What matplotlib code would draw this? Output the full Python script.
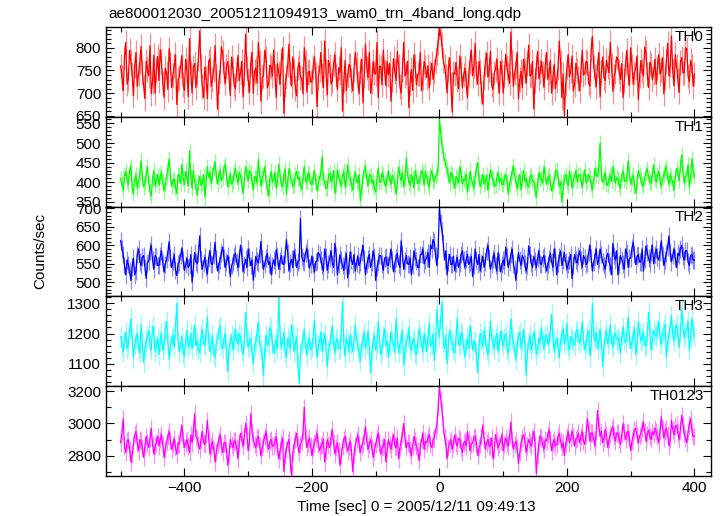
import numpy as np
import matplotlib
matplotlib.use('Agg')
import matplotlib.pyplot as plt
from matplotlib.ticker import MultipleLocator

plt.rcParams['font.family'] = ['Liberation Sans', 'DejaVu Sans']
plt.rcParams['font.size'] = 11

# Light curve bins: 2 sec steps starting at -500 sec
t_start = -500
t_step = 2

# Counts/sec per band (one row = 60 sec)
th0 = [
    760, 735, 705, 778, 812, 720, 731, 795, 768, 742, 694, 760, 790, 715, 742, 770, 803, 748, 716, 688, 771, 752, 738, 805, 699, 726, 784, 700, 752, 781,
    728, 796, 770, 722, 690, 755, 745, 708, 798, 766, 712, 740, 760, 785, 675, 730, 735, 760, 782, 718, 706, 775, 748, 692, 820, 744, 700, 758, 765, 712,
    742, 775, 838, 760, 715, 690, 758, 732, 688, 770, 776, 715, 730, 752, 805, 738, 664, 725, 748, 802, 790, 745, 722, 760, 770, 735, 695, 780, 752, 718,
    710, 752, 783, 728, 745, 770, 692, 742, 830, 756, 728, 702, 765, 790, 700, 748, 756, 722, 812, 768, 682, 735, 738, 795, 776, 712, 720, 762, 758, 738,
    795, 740, 690, 765, 744, 720, 772, 800, 655, 718, 736, 762, 808, 745, 716, 780, 750, 710, 694, 755, 768, 735, 733, 698, 800, 770, 702, 746, 748, 725,
    725, 758, 780, 742, 670, 735, 752, 790, 740, 712, 815, 748, 696, 772, 760, 720, 728, 765, 785, 740, 708, 756, 745, 800, 660, 728, 772, 705, 738, 762,
    762, 728, 705, 752, 790, 765, 722, 700, 748, 775, 678, 738, 808, 755, 735, 790, 700, 726, 770, 745, 742, 812, 690, 760, 758, 718, 795, 748, 716, 770,
    740, 765, 682, 730, 776, 748, 728, 792, 760, 715, 700, 752, 812, 738, 745, 770, 668, 722, 752, 706, 785, 760, 718, 742, 742, 790, 705, 734, 770, 758,
    735, 760, 712, 745, 766, 730, 748, 772, 790, 812, 846, 830, 805, 772, 760, 738, 700, 752, 778, 720, 658, 745, 742, 768, 730, 710, 782, 755, 712, 740,
    755, 725, 690, 742, 770, 795, 738, 760, 810, 744, 720, 770, 748, 702, 676, 735, 765, 788, 735, 752, 792, 718, 708, 745, 752, 775, 728, 700, 770, 748,
    700, 738, 786, 755, 742, 722, 835, 768, 715, 745, 760, 790, 688, 730, 748, 712, 775, 750, 722, 765, 806, 738, 740, 770, 665, 728, 758, 792, 732, 748,
    770, 745, 712, 760, 790, 730, 745, 772, 700, 736, 764, 710, 728, 755, 815, 768, 690, 742, 650, 720, 758, 785, 736, 750, 782, 705, 718, 766, 750, 732,
    705, 752, 795, 740, 744, 770, 768, 722, 716, 798, 825, 758, 738, 715, 762, 790, 692, 746, 780, 735, 728, 772, 758, 745, 812, 762, 704, 738, 748, 780,
    774, 748, 730, 765, 690, 728, 766, 795, 742, 718, 800, 760, 720, 745, 756, 782, 685, 738, 772, 750, 738, 802, 790, 742, 712, 768, 762, 730, 746, 775,
    720, 755, 785, 742, 752, 778, 698, 735, 770, 810, 738, 762, 826, 748, 716, 785, 760, 728, 702, 768, 778, 745, 744, 800, 798, 738, 725, 772, 760, 715,
    742]
th1 = [
    410, 395, 380, 418, 428, 405, 395, 432, 440, 388, 372, 410, 418, 385, 402, 425, 455, 412, 388, 398, 422, 440, 398, 376, 365, 408, 430, 392, 405, 420,
    392, 415, 425, 400, 378, 396, 412, 435, 460, 418, 390, 405, 408, 388, 372, 420, 418, 398, 445, 410, 395, 428, 410, 392, 480, 415, 385, 430, 402, 388,
    368, 400, 415, 392, 398, 420, 362, 405, 440, 412, 425, 398, 418, 436, 452, 415, 396, 422, 430, 405, 410, 438, 445, 418, 388, 410, 420, 395, 402, 425,
    435, 412, 398, 425, 418, 395, 372, 408, 440, 420, 405, 430, 425, 402, 380, 415, 412, 398, 458, 420, 390, 412, 420, 440, 402, 385, 365, 410, 428, 400,
    410, 425, 385, 405, 446, 415, 398, 388, 420, 432, 370, 402, 435, 415, 405, 390, 392, 420, 428, 408, 412, 395, 382, 418, 440, 402, 400, 425, 418, 396,
    395, 412, 430, 405, 378, 398, 412, 425, 465, 410, 400, 385, 386, 418, 424, 400, 408, 430, 372, 395, 432, 415, 402, 390, 418, 428, 388, 405, 445, 412,
    410, 395, 380, 412, 426, 402, 398, 420, 352, 388, 415, 430, 440, 408, 392, 415, 420, 398, 405, 385, 375, 410, 436, 402, 400, 425, 418, 395, 390, 412,
    428, 405, 395, 418, 412, 390, 370, 402, 440, 415, 405, 425, 388, 410, 462, 420, 400, 392, 420, 408, 385, 430, 415, 398, 398, 412, 430, 418, 392, 428,
    412, 398, 388, 420, 430, 405, 402, 415, 420, 440, 560, 525, 492, 475, 458, 440, 432, 418, 398, 425, 420, 402, 385, 415, 410, 398, 440, 420, 395, 408,
    405, 420, 375, 398, 428, 410, 398, 385, 415, 432, 450, 408, 390, 402, 420, 395, 402, 418, 380, 405, 432, 415, 408, 390, 392, 412, 425, 400, 410, 395,
    395, 410, 420, 402, 370, 395, 412, 425, 442, 418, 398, 385, 405, 420, 380, 408, 430, 402, 410, 392, 388, 415, 418, 405, 402, 380, 362, 398, 425, 410,
    410, 398, 440, 420, 395, 412, 418, 400, 378, 395, 405, 428, 432, 410, 390, 402, 350, 385, 412, 420, 400, 392, 428, 412, 385, 405, 415, 430, 402, 418,
    420, 405, 388, 412, 432, 398, 405, 420, 412, 395, 380, 408, 436, 418, 415, 440, 500, 425, 400, 412, 425, 395, 392, 410, 418, 402, 440, 420, 398, 412,
    410, 395, 385, 420, 428, 405, 402, 415, 455, 425, 395, 410, 418, 390, 372, 402, 430, 418, 408, 395, 390, 412, 425, 435, 412, 400, 398, 420, 445, 410,
    402, 418, 428, 405, 390, 412, 418, 432, 440, 410, 395, 420, 412, 398, 380, 415, 435, 422, 405, 440, 470, 425, 398, 412, 420, 445, 388, 415, 460, 428,
    415]
th2 = [
    612, 590, 575, 545, 520, 560, 548, 530, 505, 542, 565, 520, 530, 575, 590, 555, 545, 568, 572, 540, 510, 552, 558, 585, 600, 560, 535, 572, 568, 545,
    545, 570, 585, 552, 528, 548, 562, 580, 610, 565, 540, 558, 575, 532, 518, 550, 555, 572, 592, 560, 532, 548, 565, 540, 545, 575, 500, 538, 580, 555,
    550, 578, 625, 560, 535, 552, 568, 540, 522, 565, 585, 550, 548, 572, 608, 562, 530, 548, 560, 578, 595, 565, 540, 555, 572, 548, 515, 545, 555, 570,
    578, 555, 540, 565, 600, 572, 528, 548, 562, 540, 590, 568, 545, 560, 505, 538, 570, 558, 552, 575, 610, 562, 535, 550, 565, 578, 548, 555, 520, 545,
    560, 545, 588, 570, 535, 558, 572, 550, 548, 575, 615, 580, 530, 552, 562, 540, 585, 568, 540, 555, 560, 672, 568, 558, 555, 578, 592, 565, 538, 550,
    570, 548, 528, 555, 558, 580, 575, 560, 545, 530, 590, 568, 532, 550, 565, 585, 550, 540, 605, 572, 520, 548, 575, 560, 545, 532, 560, 578, 512, 545,
    582, 560, 548, 575, 530, 552, 570, 545, 555, 580, 600, 562, 520, 548, 562, 575, 540, 555, 585, 568, 505, 540, 555, 572, 572, 550, 532, 565, 568, 548,
    545, 565, 590, 560, 528, 552, 565, 578, 550, 540, 612, 575, 535, 558, 572, 550, 548, 565, 520, 545, 585, 568, 558, 540, 540, 575, 575, 590, 550, 560,
    565, 580, 540, 600, 590, 615, 608, 570, 545, 590, 702, 660, 640, 605, 560, 585, 520, 555, 575, 548, 548, 570, 530, 552, 568, 540, 552, 575, 585, 560,
    540, 562, 575, 548, 555, 570, 515, 545, 590, 560, 548, 575, 530, 552, 570, 540, 555, 585, 600, 565, 535, 550, 562, 578, 545, 530, 580, 555, 528, 548,
    560, 545, 595, 568, 540, 555, 575, 590, 550, 535, 505, 548, 580, 560, 545, 572, 565, 550, 530, 545, 598, 575, 552, 540, 570, 558, 540, 565, 585, 550,
    548, 565, 572, 550, 530, 548, 562, 578, 555, 540, 590, 570, 520, 552, 568, 585, 545, 560, 580, 555, 535, 548, 560, 575, 510, 545, 575, 560, 552, 570,
    585, 560, 540, 572, 565, 548, 552, 580, 600, 565, 530, 555, 570, 590, 548, 562, 590, 575, 555, 545, 535, 568, 578, 555, 545, 520, 605, 572, 560, 585,
    520, 548, 572, 560, 550, 535, 590, 578, 540, 565, 565, 592, 608, 575, 548, 570, 575, 555, 555, 590, 530, 562, 598, 580, 565, 552, 580, 600, 550, 575,
    590, 568, 560, 582, 612, 575, 545, 560, 578, 595, 625, 580, 555, 572, 590, 565, 540, 578, 572, 590, 600, 570, 560, 585, 585, 555, 545, 572, 575, 560,
    560]
th3 = [
    1190, 1160, 1140, 1175, 1205, 1150, 1160, 1215, 1250, 1180, 1120, 1165, 1185, 1200, 1150, 1135, 1230, 1170, 1105, 1150, 1175, 1190, 1210, 1160, 1145, 1225, 1195, 1140, 1160, 1185,
    1130, 1175, 1200, 1145, 1165, 1210, 1240, 1170, 1115, 1160, 1180, 1195, 1155, 1220, 1300, 1175, 1140, 1165, 1190, 1135, 1125, 1180, 1210, 1155, 1170, 1200, 1150, 1185, 1230, 1160,
    1175, 1150, 1135, 1190, 1215, 1165, 1160, 1205, 1255, 1175, 1140, 1160, 1195, 1130, 1120, 1170, 1180, 1215, 1225, 1160, 1150, 1185, 1200, 1140, 1075, 1155, 1170, 1195, 1145, 1180,
    1215, 1175, 1165, 1200, 1190, 1145, 1130, 1180, 1270, 1190, 1155, 1170, 1185, 1135, 1100, 1160, 1175, 1205, 1240, 1165, 1145, 1125, 1060, 1150, 1195, 1175, 1160, 1220, 1210, 1165,
    1135, 1165, 1180, 1150, 1320, 1195, 1150, 1175, 1205, 1140, 1120, 1185, 1170, 1150, 1230, 1190, 1140, 1165, 1190, 1100, 1035, 1130, 1165, 1180, 1215, 1155, 1130, 1170, 1185, 1145,
    1155, 1190, 1245, 1170, 1120, 1160, 1175, 1205, 1140, 1175, 1200, 1150, 1090, 1145, 1165, 1195, 1225, 1160, 1135, 1180, 1180, 1150, 1150, 1210, 1305, 1165, 1125, 1185, 1170, 1140,
    1195, 1165, 1140, 1180, 1230, 1175, 1160, 1135, 1110, 1160, 1185, 1205, 1150, 1170, 1210, 1155, 1070, 1140, 1175, 1195, 1145, 1170, 1240, 1185, 1130, 1150, 1190, 1215, 1160, 1175,
    1120, 1160, 1205, 1175, 1165, 1140, 1250, 1190, 1135, 1165, 1180, 1210, 1095, 1150, 1170, 1185, 1220, 1160, 1145, 1175, 1185, 1135, 1130, 1170, 1215, 1190, 1160, 1140, 1200, 1175,
    1140, 1185, 1235, 1160, 1165, 1200, 1110, 1175, 1280, 1215, 1190, 1250, 1305, 1170, 1150, 1195, 1100, 1160, 1210, 1180, 1170, 1145, 1135, 1190, 1250, 1165, 1160, 1205, 1195, 1150,
    1125, 1165, 1180, 1150, 1225, 1195, 1145, 1175, 1170, 1130, 1070, 1160, 1200, 1180, 1155, 1210, 1190, 1145, 1130, 1170, 1240, 1185, 1165, 1150, 1185, 1200, 1140, 1165, 1210, 1175,
    1160, 1185, 1200, 1150, 1135, 1175, 1250, 1190, 1175, 1140, 1115, 1165, 1190, 1205, 1150, 1175, 1215, 1160, 1060, 1140, 1170, 1195, 1145, 1165, 1205, 1180, 1130, 1155, 1185, 1170,
    1220, 1175, 1150, 1190, 1195, 1165, 1170, 1210, 1265, 1185, 1140, 1170, 1185, 1155, 1120, 1175, 1200, 1215, 1165, 1180, 1235, 1160, 1145, 1190, 1180, 1170, 1160, 1205, 1215, 1180,
    1170, 1195, 1240, 1180, 1145, 1170, 1195, 1210, 1125, 1165, 1300, 1190, 1175, 1205, 1150, 1180, 1215, 1175, 1090, 1155, 1190, 1210, 1165, 1185, 1230, 1170, 1155, 1195, 1200, 1180,
    1185, 1170, 1135, 1195, 1220, 1180, 1170, 1205, 1255, 1190, 1150, 1175, 1195, 1215, 1130, 1170, 1240, 1200, 1175, 1185, 1205, 1160, 1160, 1195, 1270, 1210, 1145, 1180, 1210, 1195,
    1190, 1210, 1240, 1185, 1165, 1200, 1215, 1230, 1120, 1175, 1200, 1220, 1260, 1195, 1175, 1215, 1230, 1190, 1155, 1205, 1280, 1225, 1185, 1200, 1215, 1240, 1145, 1190, 1250, 1210,
    1190]
th0123 = [
    2880, 2950, 3030, 2860, 2820, 2890, 2900, 2840, 2760, 2810, 2870, 2930, 2950, 2880, 2830, 2900, 2890, 2850, 2790, 2860, 2920, 2880, 2850, 2910, 2970, 2870, 2810, 2860, 2880, 2920,
    2860, 2900, 2930, 2870, 2790, 2840, 2885, 2920, 2950, 2890, 2840, 2870, 2905, 2850, 2810, 2880, 2870, 2940, 2990, 2900, 2850, 2880, 2900, 2860, 2820, 2930, 2880, 2950, 3060, 2920,
    2905, 2870, 2840, 2900, 2950, 2880, 2870, 2930, 3020, 2910, 2810, 2860, 2890, 2840, 2760, 2820, 2870, 2900, 2930, 2860, 2820, 2880, 2880, 2840, 2740, 2810, 2900, 2870, 2850, 2890,
    2890, 2850, 2780, 2880, 2940, 2900, 2860, 2920, 3000, 2930, 2830, 2890, 3060, 2950, 2900, 2870, 2850, 2910, 2920, 2860, 2800, 2850, 2880, 2920, 2950, 2880, 2840, 2890, 2900, 2860,
    2860, 2890, 2920, 2850, 2780, 2830, 2880, 2910, 2700, 2800, 2840, 2880, 2900, 2760, 2680, 2820, 2870, 2900, 2940, 2860, 2820, 2870, 2890, 2950, 3100, 2920, 2850, 2880, 2910, 2860,
    2800, 2850, 2880, 2910, 2940, 2870, 2830, 2860, 2870, 2900, 2760, 2830, 2900, 2870, 2850, 2920, 2960, 2880, 2810, 2850, 2880, 2830, 2740, 2800, 2860, 2900, 2920, 2870, 2830, 2860,
    2890, 2830, 2700, 2810, 2860, 2900, 2930, 2870, 2820, 2860, 2880, 2920, 2980, 2890, 2840, 2870, 2900, 2850, 2790, 2830, 2870, 2910, 2940, 2880, 2810, 2850, 2860, 2900, 2760, 2840,
    2900, 2870, 2840, 2890, 2930, 2860, 2850, 2910, 2780, 2850, 2890, 2930, 3000, 2900, 2850, 2880, 2880, 2840, 2800, 2860, 2920, 2890, 2860, 2830, 2770, 2850, 2900, 2940, 2840, 2890,
    2880, 2910, 2930, 2870, 2850, 2900, 2910, 2960, 2990, 3100, 3230, 3150, 3080, 2990, 2920, 2870, 2780, 2850, 2880, 2900, 2840, 2870, 2930, 2880, 2860, 2910, 2900, 2850, 2820, 2880,
    2890, 2860, 2950, 2900, 2830, 2870, 2880, 2910, 2920, 2880, 2800, 2850, 2870, 2920, 2990, 2900, 2840, 2880, 2900, 2860, 2860, 2910, 2780, 2840, 2930, 2890, 2850, 2870, 2890, 2930,
    2830, 2870, 2910, 2880, 2860, 2920, 3010, 2900, 2840, 2870, 2890, 2850, 2750, 2820, 2880, 2910, 2930, 2890, 2820, 2860, 2900, 2880, 2860, 2910, 2950, 2870, 2690, 2800, 2880, 2920,
    2910, 2870, 2840, 2900, 2890, 2930, 2960, 2900, 2830, 2880, 2900, 2860, 2870, 2920, 2940, 2890, 2850, 2880, 2800, 2870, 2920, 2950, 2880, 2910, 2950, 2920, 2860, 2900, 2910, 2940,
    2880, 2920, 2950, 2890, 2870, 2930, 3030, 2960, 2890, 2940, 2940, 2900, 2860, 2950, 3080, 2980, 2920, 2950, 2880, 2910, 2960, 2930, 2850, 2900, 2930, 2960, 2980, 2920, 2890, 2940,
    2940, 2900, 2870, 2930, 3000, 2950, 2900, 2940, 2950, 2910, 2830, 2890, 2920, 2960, 2970, 2930, 2880, 2920, 2940, 2970, 3010, 2950, 2890, 2930, 2960, 2920, 2900, 2950, 2930, 2970,
    2950, 2920, 2880, 2960, 3040, 2970, 2910, 2950, 2970, 2930, 2860, 2900, 3020, 2960, 2930, 2980, 2990, 2940, 2900, 2960, 3050, 2990, 2940, 2910, 2880, 2950, 2990, 3030, 2950, 2920,
    2920]

# Typical error bar half-length per band (counts/sec)
errs = [27, 20, 24, 34, 54]

names = ['TH0', 'TH1', 'TH2', 'TH3', 'TH0123']
series = [th0, th1, th2, th3, th0123]
colors = ['#ff0000', '#00ff00', '#0000ff', '#00ffff', '#ff00ff']
ylims = [(648, 846), (338, 567), (462, 704), (1027, 1323), (2674, 3233)]
ymajor = [50, 50, 50, 100, 200]
yminor = [10, 10, 10, 20, 100]

fig = plt.figure(figsize=(7.2, 5.16), dpi=100)
W, H = 720.0, 516.0
left, right = 106, 711
tops = [27, 116.7, 206.7, 296.3, 385.9, 476]

for i in range(5):
    t = t_start + t_step * np.arange(len(series[i]))
    y = np.array(series[i])
    y0, y1 = tops[i], tops[i + 1]
    ax = fig.add_axes([left / W, 1 - y1 / H, (right - left) / W, (y1 - y0) / H])
    ax.vlines(t, y - errs[i], y + errs[i], color=colors[i], lw=0.9, alpha=0.45)
    ax.plot(t, y, color=colors[i], lw=0.9)
    ax.set_xlim(-523, 426)
    ax.set_ylim(*ylims[i])
    ax.xaxis.set_major_locator(MultipleLocator(200))
    ax.xaxis.set_minor_locator(MultipleLocator(100))
    ax.yaxis.set_major_locator(MultipleLocator(ymajor[i]))
    ax.yaxis.set_minor_locator(MultipleLocator(yminor[i]))
    ax.tick_params(which='both', direction='in', top=True, right=True, width=0.8)
    ax.tick_params(which='major', length=6, labelsize=11)
    ax.tick_params(which='minor', length=3.5)
    for s in ax.spines.values():
        s.set_linewidth(1.0)
    if i < 4:
        ax.tick_params(labelbottom=False)
    ax.text(0.988, 0.965, names[i], transform=ax.transAxes, ha='right', va='top', fontsize=11)

fig.text(108 / W, 1 - 14 / H, 'ae800012030_20051211094913_wam0_trn_4band_long.qdp', ha='left', va='center', fontsize=11)
fig.text(40 / W, 1 - 251 / H, 'Counts/sec', rotation=90, ha='center', va='center', fontsize=11)
fig.text(416 / W, 1 - 507 / H, 'Time [sec] 0 = 2005/12/11 09:49:13', ha='center', va='center', fontsize=11)

fig.savefig('out.png', dpi=100)
